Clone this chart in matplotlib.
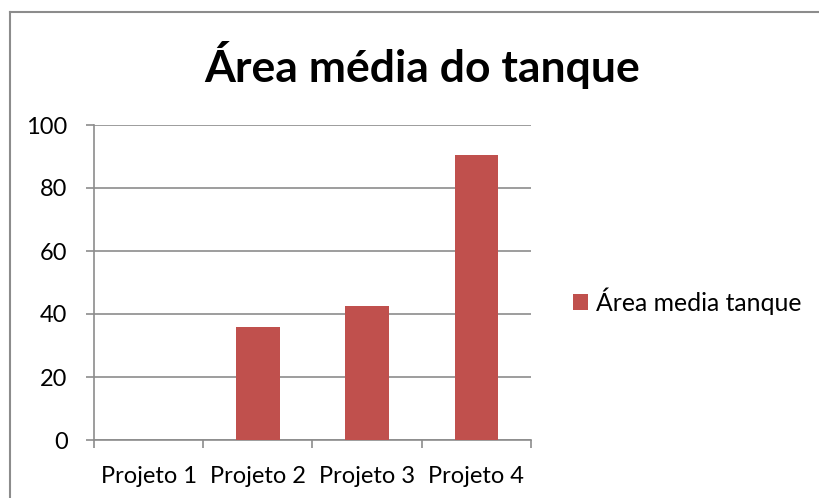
import matplotlib.pyplot as plt
from matplotlib.lines import Line2D

categories = ["Projeto 1", "Projeto 2", "Projeto 3", "Projeto 4"]
area_media = [0, 35.9, 42.6, 90.4]
series_name = "Área media tanque"
title = "Área média do tanque"

bar_color = "#C0504D"
grid_color = "#8C8C8C"

plt.rcParams['font.family'] = ['Lato', 'DejaVu Sans']

W, H = 820, 498
fig = plt.figure(figsize=(W / 100, H / 100), dpi=100)

# chart border: only top and left edges are visible in the reference
top = 1 - 12 / H
left = 10 / W
fig.add_artist(Line2D([left, 1.0], [top, top], transform=fig.transFigure,
                      color=grid_color, linewidth=1.5))
fig.add_artist(Line2D([left, left], [0, top], transform=fig.transFigure,
                      color=grid_color, linewidth=1.5))

ax = fig.add_axes([94 / W, 1 - 440 / H, (531 - 94) / W, (440 - 125) / H])

x = range(len(categories))
ax.bar(x, area_media, width=0.4, color=bar_color, label=series_name, zorder=3)

ax.set_xlim(-0.5, len(categories) - 0.5)
ax.set_ylim(0, 100)
ax.set_yticks(range(0, 101, 20))
ax.set_xticks(x)
ax.set_xticklabels(categories)
ax.set_xticks([i - 0.5 for i in range(len(categories) + 1)], minor=True)

ax.yaxis.grid(True, color=grid_color, linewidth=1.2, zorder=0)
for side in ["top", "right"]:
    ax.spines[side].set_visible(False)
for side in ["left", "bottom"]:
    ax.spines[side].set_color(grid_color)
    ax.spines[side].set_linewidth(1.2)

ax.tick_params(axis="x", which="major", length=0, labelsize=17, pad=19)
ax.tick_params(axis="x", which="minor", length=6, width=1.2, color=grid_color)
ax.tick_params(axis="y", length=6, width=1.2, color=grid_color, labelsize=17, pad=13)

fig.text(422 / W, 1 - 65 / H, title, ha="center", va="center",
         fontsize=32, fontweight="bold")

fig.legend(loc="center left", bbox_to_anchor=(573 / W, 1 - 301 / H),
           frameon=False, fontsize=17.8, handlelength=0.62, handleheight=0.62,
           handletextpad=0.3, borderaxespad=0, borderpad=0)

plt.savefig("out.png", dpi=100)
